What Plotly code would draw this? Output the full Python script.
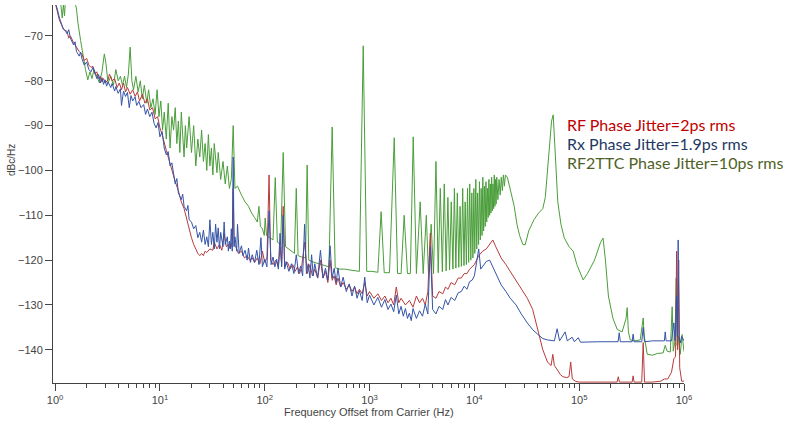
import plotly.graph_objects as go

# ---------------- data (frequency Hz, dBc/Hz) ----------------
rf_points = [(1.0,-62.5),(1.05,-64.5),(1.1,-66.5),(1.15,-67.5),(1.2,-68.5),(1.3,-69),(1.35,-70.5),(1.4,-70),(1.5,-71.5),(1.6,-72.5),(1.7,-73.5),(1.8,-74),(1.9,-75.5),(2.0,-75),(2.1,-76.5),(2.2,-77),(2.3,-76.8),(2.4,-78.5),(2.5,-78),(2.6,-79.5),(2.7,-79),(2.8,-80.3),(2.9,-79.5),(3.0,-80.5),(3.2,-79.8),(3.3,-78.5),(3.5,-80),(3.7,-79.5),(3.9,-81.5),(4.1,-80.5),(4.3,-82),(4.5,-80.5),(4.7,-82.5),(4.9,-81.5),(5.2,-83),(5.5,-82),(5.8,-83.5),(6.1,-82.5),(6.4,-84.5),(6.8,-83),(7.2,-85),(7.6,-84),(8,-86.5),(8.5,-86),(9,-88.5),(9.5,-88),(10,-90.5),(10.5,-92),(11,-94),(11.5,-95.5),(12,-97),(12.5,-98.5),(13,-100),(14,-102.5),(15,-104.5),(16,-107),(17,-108.5),(18,-111),(19,-113),(20,-115),(21,-116.5),(22,-117.5),(23,-118.5),(24,-119),(25,-118.5),(26,-119),(27,-118),(28,-118.3),(30,-117.5),(32,-117.8),(33,-116),(35,-117.5),(37,-116.5),(39,-117.8),(41,-114),(43,-117),(45,-116.5),(47,-117.5),(49,-116),(50,-104),(51,-116.5),(53,-117),(56,-118.5),(60,-118),(64,-119.5),(68,-119),(72,-120),(76,-119.5),(80,-120.5),(85,-119.5),(90,-120.8),(95,-118),(100,-120.5),(105,-119.5),(110,-101),(114,-120),(120,-121),(128,-120),(135,-121.5),(140,-117),(145,-121),(150,-108),(155,-121.5),(165,-120.5),(175,-122),(185,-121),(195,-122.5),(205,-121.5),(215,-123),(225,-121.5),(240,-116),(255,-123),(270,-121),(285,-123.5),(300,-122),(320,-124),(340,-120),(360,-124),(380,-122.5),(400,-125),(420,-120),(440,-124.5),(460,-123.5),(480,-125.5),(500,-124),(530,-126),(560,-125),(600,-126.5),(640,-125.5),(680,-127),(720,-126),(760,-127.5),(800,-126.5),(850,-127.5),(900,-125),(950,-128),(1000,-127),(1100,-128.5),(1200,-127.5),(1300,-129),(1400,-128),(1500,-129.5),(1600,-128.5),(1700,-130),(1800,-126),(1900,-129.5),(2000,-128.5),(2200,-130),(2400,-129),(2600,-130.5),(2800,-128),(3000,-129.5),(3200,-128.5),(3400,-130),(3600,-127),(3800,-114),(4000,-128),(4300,-128.5),(4600,-127),(5000,-127.5),(5300,-126),(5600,-126.5),(6000,-125),(6500,-125.5),(7000,-124),(7500,-124),(8000,-123),(8500,-123),(9000,-122),(9500,-121.5),(10000,-121),(11000,-119),(12000,-118),(13000,-117.5),(14000,-116.5),(15000,-115.5),(16000,-117),(17000,-118.5),(18000,-119.5),(20000,-121),(22000,-122.5),(25000,-124.5),(28000,-126.5),(32000,-128.5),(36000,-131),(40000,-135),(45000,-140),(50000,-142.8),(54000,-143.5),(56000,-141),(58000,-143.5),(62000,-144.5),(66000,-145.5),(70000,-146),(76000,-146.2),(80000,-146),(83000,-142.7),(86000,-146.5),(92000,-147),(100000,-147.2),(230000,-147.2),(236000,-146),(242000,-147.2),(320000,-147.2),(327000,-145.8),(334000,-147.2),(395000,-147.2),(408000,-138.4),(420000,-147.2),(500000,-147.2),(600000,-147),(650000,-146.5),(700000,-146.5),(760000,-145),(800000,-142),(830000,-141.5),(850000,-118),(870000,-140),(890000,-120),(910000,-144),(950000,-147),(1000000,-147)]

rx_points = [(1.0,-62.5),(1.05,-64),(1.1,-66),(1.15,-67.5),(1.2,-68.5),(1.25,-68.8),(1.3,-69.5),(1.35,-68.6),(1.4,-70.5),(1.5,-72),(1.55,-71.3),(1.6,-73.5),(1.7,-74.5),(1.75,-73.6),(1.8,-75),(1.9,-76.5),(2.0,-75.8),(2.1,-77.5),(2.2,-78),(2.3,-77),(2.4,-78.5),(2.5,-79.5),(2.6,-78.6),(2.7,-80.5),(2.8,-79.3),(2.9,-80.8),(3.0,-79.8),(3.1,-81.2),(3.2,-80.3),(3.4,-81.5),(3.5,-80.6),(3.7,-82.3),(3.8,-81.3),(4.0,-82.8),(4.2,-81.8),(4.3,-85.5),(4.5,-82.3),(4.7,-83.5),(4.9,-82.6),(5.1,-86),(5.3,-83.3),(5.5,-84.5),(5.8,-83.6),(6.0,-85.5),(6.3,-84.6),(6.6,-86),(7.0,-85.3),(7.3,-87.5),(7.6,-86.3),(8.0,-88),(8.4,-87),(8.8,-89.5),(9.2,-90.5),(9.6,-89.3),(10,-92.5),(10.5,-91.3),(11,-95),(11.5,-96.5),(12,-95.8),(12.5,-99),(13,-98.3),(13.5,-101),(14,-103),(14.5,-101.8),(15,-105),(16,-106.5),(16.5,-105.3),(17,-108),(18,-109),(18.5,-107.8),(19,-111),(20,-111.5),(21,-113),(22,-112.3),(23,-115),(24,-113.8),(25,-116),(26,-113.3),(27,-116.5),(28,-114.8),(29,-117),(30,-111),(31,-116.5),(32,-113.8),(33,-117.5),(34,-112),(35,-116),(36,-112.8),(37,-117.5),(38,-113.8),(40,-117),(41,-111.5),(42,-116.5),(44,-114.8),(45,-118),(46,-115.8),(47,-117.5),(48,-113),(49,-118),(50,-97),(51,-117),(52,-114.8),(54,-118),(55,-112),(57,-118.5),(60,-116.8),(62,-119),(65,-117.8),(68,-120),(70,-117.3),(73,-120.5),(76,-118.8),(80,-120.5),(84,-117.8),(88,-121),(92,-115),(95,-121.5),(100,-119.8),(105,-121.5),(110,-109),(115,-121),(120,-119.3),(125,-121.5),(130,-119.8),(135,-122),(140,-114),(145,-121.5),(150,-110),(155,-122),(160,-120.3),(170,-122.5),(180,-120.8),(190,-123),(200,-118.8),(210,-123),(220,-121.3),(230,-123.5),(240,-112),(250,-123),(260,-120.8),(270,-124),(280,-118.8),(290,-123.5),(300,-120.8),(320,-124),(340,-117.8),(360,-124),(380,-121.8),(400,-124.5),(420,-116.8),(440,-124),(460,-121.8),(480,-125),(500,-121.8),(530,-126),(560,-123.8),(600,-127),(640,-125.3),(680,-128),(720,-125.8),(760,-128.5),(800,-126.8),(850,-129),(900,-123.8),(950,-129.5),(1000,-127.8),(1100,-130),(1200,-128.3),(1300,-130.5),(1400,-128.8),(1500,-131),(1600,-129.8),(1700,-131.5),(1800,-127.8),(1900,-132),(2000,-130.3),(2100,-132.5),(2200,-130.8),(2300,-133),(2400,-131.8),(2500,-133.5),(2600,-130.8),(2800,-133),(3000,-131.3),(3200,-132.5),(3400,-129.8),(3600,-132),(3800,-117),(4000,-131),(4300,-132),(4600,-130.3),(5000,-131),(5300,-128.8),(5600,-130),(6000,-128.3),(6500,-129),(7000,-127.3),(7500,-127),(8000,-125.8),(8500,-126.5),(9000,-124.8),(9500,-124.5),(10000,-123.5),(10500,-120.5),(11000,-117.5),(11500,-122),(12000,-121.3),(13000,-120.3),(14000,-120),(15000,-121.5),(16000,-123),(17000,-124.5),(18000,-125.5),(20000,-127),(22000,-128.5),(25000,-130),(28000,-132),(32000,-134),(36000,-135.5),(40000,-136.5),(45000,-137.5),(50000,-137.8),(58000,-138),(61600,-135.3),(65000,-138),(73500,-136),(77000,-138),(85700,-137.2),(90000,-138.2),(97900,-137.3),(103000,-138.3),(150000,-138.2),(235000,-138.2),(241000,-136.2),(247000,-138.2),(320000,-138.2),(327000,-136.5),(334000,-138.2),(395000,-138.2),(408000,-135),(420000,-138.2),(500000,-138),(650000,-138),(662000,-136),(675000,-138),(760000,-138),(800000,-134),(820000,-138),(850000,-128),(865000,-137),(880000,-115.5),(895000,-137),(920000,-138.5),(950000,-137),(980000,-137.5),(1000000,-138)]

ttc_points = [(1.0,-60),(1.1,-60),(1.14,-63.5),(1.17,-66),(1.2,-63),(1.23,-65.5),(1.26,-61),(1.5,-61),(1.6,-64),(1.65,-67),(1.75,-71),(1.85,-74.5),(1.95,-77.5),(2.05,-79.8),(2.15,-78),(2.25,-79.5),(2.35,-77.5),(2.5,-79),(2.65,-80.5),(2.8,-78),(2.95,-74),(3.05,-76),(3.2,-80.5),(3.4,-79),(3.6,-81),(3.8,-77.5),(4.0,-80),(4.2,-79),(4.4,-81),(4.6,-79),(4.8,-81.5),(5.0,-78.5),(5.2,-72.5),(5.4,-80),(5.6,-82),(5.9,-79),(6.2,-82.5),(6.5,-80),(6.8,-84),(7.1,-81),(7.5,-85),(7.8,-82),(8.2,-86),(8.6,-84),(9.0,-87.5),(9.4,-82),(9.8,-88),(10.2,-84.5),(10.6,-91),(11,-87),(11.5,-93),(12,-85),(12.5,-95),(13,-88),(13.5,-91),(14,-86),(14.5,-94),(15,-89),(15.5,-96),(16,-87),(17,-97),(17.5,-90),(18,-95),(19,-88),(20,-96),(21,-90),(22,-99),(23,-93),(24,-97),(25,-91),(26,-98),(27,-94),(28,-100),(29,-92),(30,-99),(31,-95),(32,-101),(33,-94),(35,-100.5),(36,-96),(38,-102),(40,-98),(42,-103),(44,-99),(46,-104),(48,-102),(50,-90),(52,-104),(55,-103.5),(60,-105.5),(65,-107),(70,-108),(75,-109.5),(80,-110.5),(85,-111.5),(88,-108),(91,-112.5),(95,-113),(99,-114.5),(101,-110.6),(104,-114.5),(112,-115),(120,-115.5),(126,-101.6),(132,-116),(142,-116.5),(150,-96),(158,-117),(168,-117.5),(180,-118),(192,-118.5),(200,-104),(208,-119),(225,-119.3),(245,-119.5),(254,-98.8),(263,-120),(280,-120.3),(300,-120.5),(320,-120.8),(350,-121),(380,-121.2),(410,-121.5),(440,-90.3),(470,-121.7),(520,-122),(580,-122),(650,-122.2),(720,-122.3),(800,-122.5),(870,-72.2),(940,-122.5),(1050,-122.5),(1200,-122.7),(1290,-109.2),(1380,-122.8),(1550,-122.8),(1720,-92.7),(1850,-123),(2000,-123),(2140,-110),(2300,-123),(2450,-123),(2610,-92.5),(2800,-123),(3040,-107),(3250,-123),(3480,-110),(3650,-123),(3870,-112),(4080,-123),(4300,-98),(4520,-122.8),(4730,-104),(4950,-122.6),(5160,-103),(5380,-122.4),(5590,-106),(5800,-122.2),(6020,-107),(6240,-122),(6450,-104),(6660,-121.8),(6880,-105),(7100,-121.6),(7310,-108),(7520,-121.4),(7740,-104),(7960,-121.2),(8170,-107),(8390,-121),(8600,-104),(8820,-120.5),(9030,-103),(9250,-120),(9460,-105),(9680,-119.5),(9890,-104),(10100,-118.5),(10320,-102),(10540,-117.5),(10750,-105),(10970,-116.5),(11180,-102.5),(11400,-115.5),(11610,-104),(11830,-114.5),(12040,-101.5),(12260,-113.5),(12470,-103.5),(12690,-112.5),(12900,-102.5),(13120,-111.5),(13330,-104),(13550,-110.5),(13760,-102),(13980,-110),(14190,-103),(14400,-109.5),(14620,-101.5),(14840,-109),(15050,-103),(15260,-108.5),(15480,-101),(15700,-108),(15910,-102),(16120,-107.5),(16340,-101.5),(16770,-106.5),(17200,-102),(17630,-105.5),(18060,-101.5),(18490,-104.5),(18920,-101),(19350,-103.5),(19780,-101),(20640,-101.5),(22000,-104),(24000,-108),(25500,-112),(27000,-114.5),(29000,-116.5),(30500,-116.6),(33000,-113.5),(37000,-111),(41000,-109.5),(45000,-108.5),(47500,-106),(49500,-101),(52000,-94),(54500,-89),(56500,-87.6),(58500,-94),(60500,-102),(62500,-107),(67000,-112),(72000,-115),(80000,-117),(87700,-118),(95000,-121),(103000,-123),(109000,-124.4),(120000,-123),(140000,-120),(160000,-116),(169000,-115.1),(178000,-120),(190000,-128),(210000,-133),(231000,-135.5),(257000,-136),(280000,-133),(287000,-130.6),(295000,-136),(307000,-137.8),(340000,-138),(382000,-137.8),(400000,-135),(408000,-132.9),(418000,-137),(446000,-141),(500000,-141.2),(560000,-140.8),(632000,-140.7),(662000,-139),(690000,-140.3),(740000,-140.5),(771000,-130.4),(790000,-140.3),(820000,-138),(843000,-124),(860000,-139),(881000,-137),(920000,-141),(960000,-136.6),(1000000,-140.4)]

series_names = ["RF2TTC", "RF", "Rx"]
series_colors = ["#4a9e3a", "#b83a3a", "#3554a8"]
label_texts = ["RF Phase Jitter=2ps rms", "Rx Phase Jitter=1.9ps rms", "RF2TTC Phase Jitter=10ps rms"]
label_colors = ["#C00000", "#1F3864", "#4F6228"]
x_tick_vals = [1, 10, 100, 1000, 10000, 100000, 1000000]
x_tick_text = ["10<sup>0</sup>", "10<sup>1</sup>", "10<sup>2</sup>", "10<sup>3</sup>", "10<sup>4</sup>", "10<sup>5</sup>", "10<sup>6</sup>"]
x_minor_vals = [m * 10 ** d for d in range(6) for m in range(2, 10)]
y_tick_vals = [-140, -130, -120, -110, -100, -90, -80, -70]

fig = go.Figure()
for pts, name, col in zip([ttc_points, rf_points, rx_points], series_names, series_colors):
    fig.add_trace(go.Scatter(
        x=[p[0] for p in pts], y=[p[1] for p in pts], mode="lines", name=name,
        line=dict(color=col, width=1), showlegend=False))

axis_font = dict(family="Liberation Sans, Arial, sans-serif", size=11, color="#444444")
fig.update_xaxes(type="log", range=[-0.02, 6.0], tickvals=x_tick_vals, ticktext=x_tick_text,
                 showline=True, linecolor="#444444", linewidth=1, ticks="outside", ticklen=7,
                 tickcolor="#444444", showgrid=False, zeroline=False, tickfont=axis_font,
                 minor=dict(tickmode="array", tickvals=x_minor_vals, ticks="outside", ticklen=4,
                            tickcolor="#444444", showgrid=False))
fig.update_yaxes(range=[-147.4, -63.1], tickvals=y_tick_vals, showline=True, linecolor="#444444",
                 linewidth=1, ticks="outside", ticklen=7, tickcolor="#444444", showgrid=False,
                 zeroline=False, tickfont=axis_font)

anns = []
for i, (t, c) in enumerate(zip(label_texts, label_colors)):
    anns.append(dict(text=t, xref="paper", yref="paper", x=0.8114, y=0.685 - i * 0.051,
                     xanchor="left", yanchor="middle", showarrow=False,
                     font=dict(family="Lato, sans-serif", size=16, color=c)))
anns.append(dict(text="Frequency Offset from Carrier (Hz)", xref="paper", yref="paper",
                 x=0.5, y=-0.077, xanchor="center", yanchor="middle", showarrow=False,
                 font=dict(family="Liberation Sans, Arial, sans-serif", size=11, color="#444444")))
anns.append(dict(text="dBc/Hz", xref="paper", yref="paper", x=-0.065, y=0.59, textangle=-90,
                 xanchor="center", yanchor="middle", showarrow=False,
                 font=dict(family="Liberation Sans, Arial, sans-serif", size=10, color="#444444")))

fig.update_layout(width=792, height=427, margin=dict(l=53, r=108, t=5, b=44),
                  plot_bgcolor="white", paper_bgcolor="white", annotations=anns)
fig.write_html("out.html", config={"displayModeBar": False},
               post_script="document.body.style.margin='0px';")
